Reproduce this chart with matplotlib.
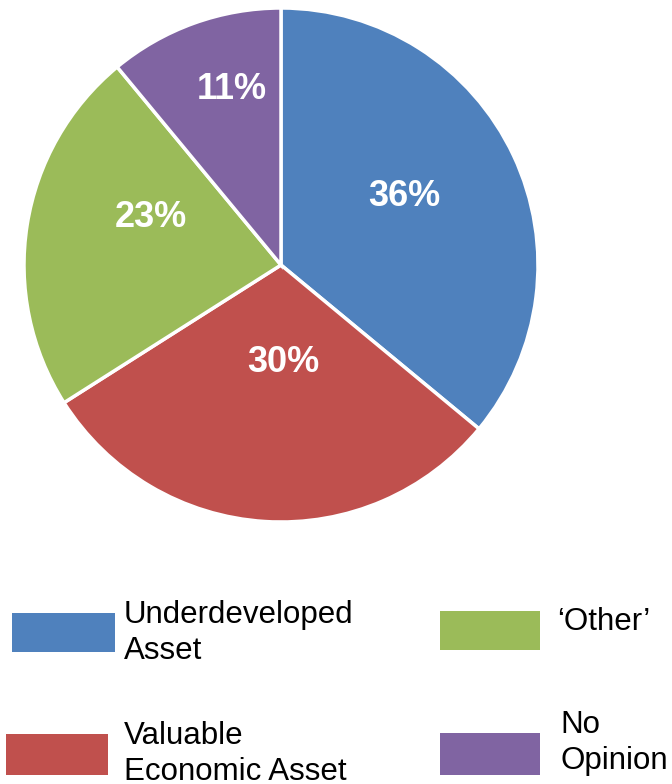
import matplotlib.pyplot as plt
from matplotlib.patches import Rectangle
import numpy as np

plt.rcParams['font.family'] = ['Liberation Sans', 'DejaVu Sans']

# Veriler
labels = ["Underdeveloped\nAsset", "Valuable\nEconomic Asset", "\u2018Other\u2019", "No\nOpinion"]
values = [36, 30, 23, 11]
colors = ["#4F81BD", "#C0504D", "#9BBB59", "#8064A2"]

W, H = 672, 784
fig = plt.figure(figsize=(W / 100, H / 100), dpi=100)

# Pasta grafiği (merkez ~ (281,265) px, yarıçap ~257 px)
cx, cy, r = 281, 265, 257
ax = fig.add_axes([(cx - r) / W, (H - cy - r) / H, 2 * r / W, 2 * r / H])
wedges, _ = ax.pie(values, colors=colors, startangle=90, counterclock=False,
                   radius=1, wedgeprops=dict(edgecolor="white", linewidth=2.5))
ax.set_xlim(-1, 1)
ax.set_ylim(-1, 1)
ax.set_aspect("equal")
ax.axis("off")

# Yüzde etiketleri (Excel "best fit" konumlarına yakın)
label_r = [0.55, 0.38, 0.54, 0.71]
label_shift = [4, 5, -11, -4]
for w, v, lr, sh in zip(wedges, values, label_r, label_shift):
    ang = np.deg2rad((w.theta1 + w.theta2) / 2 + sh)
    ax.text(lr * np.cos(ang), lr * np.sin(ang), f"{v}%", color="white",
            fontsize=26, fontweight="bold", ha="center", va="center")

# Lejant (elle yerleştirilmiş)
boxes = [(12, 613, 103, 39), (6, 734, 102, 41), (440, 611, 100, 39), (440, 733, 100, 42)]
text_pos = [(124, 633), (124, 754), (557, 622), (560, 743)]
for (bx, by, bw, bh), (tx, ty), lab, col in zip(boxes, text_pos, labels, colors):
    fig.patches.append(Rectangle((bx / W, 1 - (by + bh) / H), bw / W, bh / H,
                                 transform=fig.transFigure, facecolor=col,
                                 edgecolor="none"))
    fig.text(tx / W, 1 - ty / H, lab, fontsize=22.5, ha="left", va="center",
             linespacing=1.3)

plt.savefig("out.png", dpi=100)
